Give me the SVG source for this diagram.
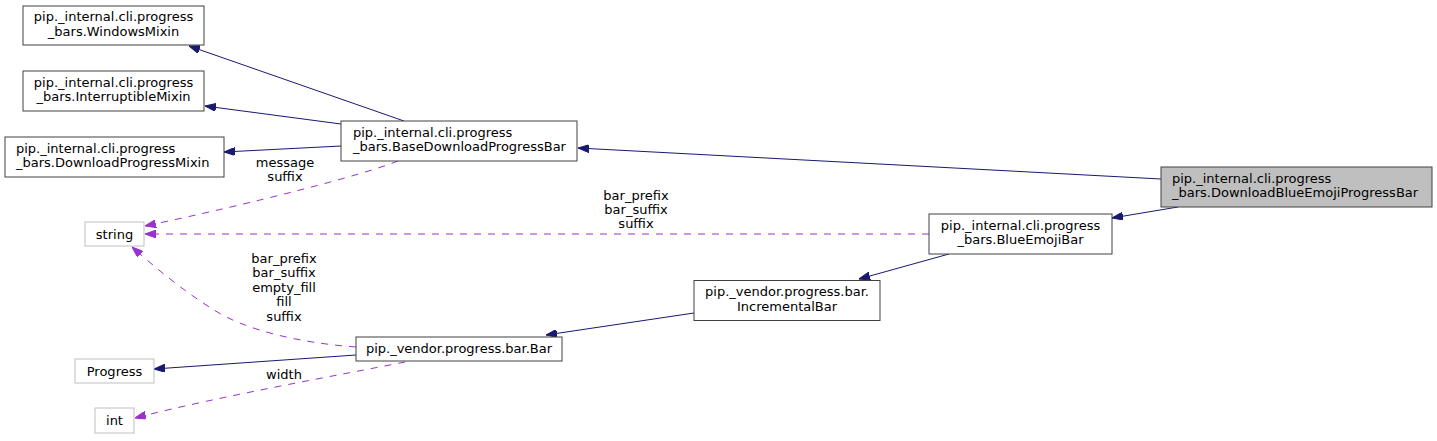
<svg xmlns="http://www.w3.org/2000/svg" width="1437" height="441" viewBox="0 0 1437 441">
<style>
text{font-family:"DejaVu Sans","Liberation Sans",sans-serif;font-size:13px;fill:#000}
.c{text-anchor:middle}
.box{fill:#fff;stroke:#404040;stroke-width:1}
.ext{fill:#fff;stroke:#bfbfbf;stroke-width:1}
.cur{fill:#bfbfbf;stroke:#404040;stroke-width:1}
.inh{fill:none;stroke:#191970;stroke-width:1;marker-end:url(#an)}
.use{fill:none;stroke:#9a32cd;stroke-width:1;stroke-dasharray:7,7;marker-end:url(#ap)}
</style>
<defs>
<marker id="an" markerWidth="11" markerHeight="8" refX="11" refY="4" orient="auto" markerUnits="userSpaceOnUse"><path d="M0,0 L11,4 L0,8 z" fill="#191970" stroke="#191970" stroke-width="1"/></marker>
<marker id="ap" markerWidth="11" markerHeight="8" refX="11" refY="4" orient="auto" markerUnits="userSpaceOnUse"><path d="M0,0 L11,4 L0,8 z" fill="#9a32cd" stroke="#9a32cd" stroke-width="1"/></marker>
</defs>
<rect width="1437" height="441" fill="#fff"/>
<g id="edges">
<path class="inh" d="M404,121 L189,46"/>
<path class="inh" d="M341,124 L205,106"/>
<path class="inh" d="M341,146 L224,152"/>
<path class="inh" d="M1161,179 L578,148"/>
<path class="inh" d="M1178,207 L1112,218"/>
<path class="inh" d="M949,254 L859,279"/>
<path class="inh" d="M694,313 L546,335"/>
<path class="inh" d="M356,355 L154,369"/>
<path class="use" d="M398,161 C360,176 250,204 145,226"/>
<path class="use" d="M929,234 L145,234"/>
<path class="use" d="M356,347 C300,343 245,330 214,310 C185,292 158,270 132,247"/>
<path class="use" d="M405,362 C340,375 220,396 135,418"/>
<text class="c" x="285" y="166.5">message</text>
<text class="c" x="285" y="181">suffix</text>
<text class="c" x="636" y="199.5">bar_prefix</text>
<text class="c" x="636" y="213.5">bar_suffix</text>
<text class="c" x="636" y="228">suffix</text>
<text class="c" x="284" y="262.5">bar_prefix</text>
<text class="c" x="284" y="277">bar_suffix</text>
<text class="c" x="284" y="291.5">empty_fill</text>
<text class="c" x="284" y="306">fill</text>
<text class="c" x="284" y="320.5">suffix</text>
<text class="c" x="284" y="378.5">width</text>
</g>
<g id="WindowsMixin">
<rect class="box" x="23" y="6" width="181" height="39"/>
<text class="c" x="113.5" y="21">pip._internal.cli.progress</text>
<text class="c" x="113.5" y="35.5">_bars.WindowsMixin</text>
</g>
<g id="InterruptibleMixin">
<rect class="box" x="23" y="71" width="181" height="40"/>
<text class="c" x="113.5" y="86.5">pip._internal.cli.progress</text>
<text class="c" x="113.5" y="101">_bars.InterruptibleMixin</text>
</g>
<g id="DownloadProgressMixin">
<rect class="box" x="5" y="137" width="219" height="40"/>
<text x="16" y="152.5">pip._internal.cli.progress</text>
<text x="16" y="167">_bars.DownloadProgressMixin</text>
</g>
<g id="BaseDownloadProgressBar">
<rect class="box" x="341" y="121" width="236" height="40"/>
<text x="353" y="136.5">pip._internal.cli.progress</text>
<text x="353" y="151">_bars.BaseDownloadProgressBar</text>
</g>
<g id="DownloadBlueEmojiProgressBar">
<rect class="cur" x="1161" y="167" width="271" height="40"/>
<text x="1172" y="182.5">pip._internal.cli.progress</text>
<text x="1172" y="197">_bars.DownloadBlueEmojiProgressBar</text>
</g>
<g id="BlueEmojiBar">
<rect class="box" x="929" y="214" width="183" height="40"/>
<text class="c" x="1020.5" y="229.5">pip._internal.cli.progress</text>
<text class="c" x="1020.5" y="244">_bars.BlueEmojiBar</text>
</g>
<g id="IncrementalBar">
<rect class="box" x="694" y="280.5" width="186" height="40"/>
<text class="c" x="787" y="296">pip._vendor.progress.bar.</text>
<text class="c" x="787" y="310.5">IncrementalBar</text>
</g>
<g id="Bar">
<rect class="box" x="356" y="337" width="206" height="24"/>
<text class="c" x="459" y="353">pip._vendor.progress.bar.Bar</text>
</g>
<g id="string">
<rect class="ext" x="85" y="222" width="59" height="24"/>
<text class="c" x="114.5" y="238.5">string</text>
</g>
<g id="Progress">
<rect class="ext" x="75" y="359" width="79" height="24"/>
<text class="c" x="114.5" y="375.5">Progress</text>
</g>
<g id="int">
<rect class="ext" x="95" y="408" width="39" height="25"/>
<text class="c" x="114.5" y="425">int</text>
</g>
</svg>
